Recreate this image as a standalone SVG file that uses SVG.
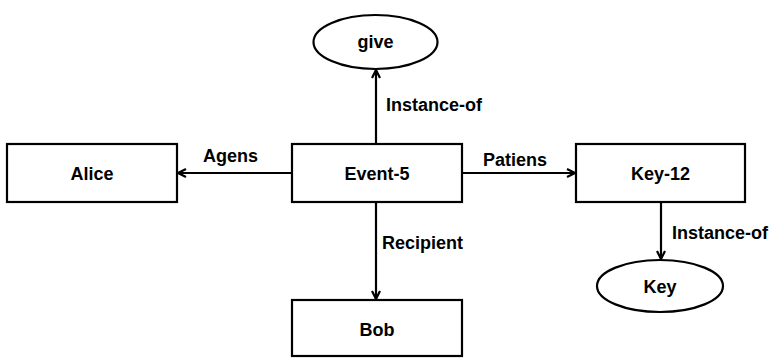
<svg xmlns="http://www.w3.org/2000/svg" width="776" height="358" viewBox="0 0 776 358">
  <style>
    .box { fill: #ffffff; stroke: #000000; stroke-width: 2.2; }
    .edge { fill: none; stroke: #000000; stroke-width: 2.2; }
    .lbl { font-family: "Liberation Sans", Arial, sans-serif; font-weight: bold; font-size: 18px; fill: #000000; }
    .mid { text-anchor: middle; }
  </style>
  <defs>
    <marker id="arrow" viewBox="0 0 10 10" refX="9" refY="5" markerWidth="10" markerHeight="10" markerUnits="userSpaceOnUse" orient="auto">
      <path d="M1,1 L9,5 L1,9" fill="none" stroke="#000000" stroke-width="2.2"/>
    </marker>
  </defs>
  <rect width="776" height="358" fill="#ffffff"/>

  <!-- connectors -->
  <g id="connectors">
    <line class="edge" x1="376" y1="144" x2="376" y2="70" marker-end="url(#arrow)"/>
    <text class="lbl" x="386" y="111">Instance-of</text>
    <line class="edge" x1="292" y1="173" x2="178" y2="173" marker-end="url(#arrow)"/>
    <text class="lbl" x="203" y="162">Agens</text>
    <line class="edge" x1="462" y1="173" x2="575" y2="173" marker-end="url(#arrow)"/>
    <text class="lbl" x="483" y="166">Patiens</text>
    <line class="edge" x1="376" y1="202" x2="376" y2="299" marker-end="url(#arrow)"/>
    <text class="lbl" x="382" y="249">Recipient</text>
    <line class="edge" x1="661" y1="202" x2="661" y2="259" marker-end="url(#arrow)"/>
    <text class="lbl" x="672" y="239">Instance-of</text>
  </g>

  <!-- nodes -->
  <g id="give">
    <ellipse class="box" cx="375.5" cy="42" rx="62" ry="27"/>
    <text class="lbl mid" x="375.5" y="48">give</text>
  </g>
  <g id="event5">
    <rect class="box" x="292" y="144" width="170" height="58"/>
    <text class="lbl mid" x="377" y="180">Event-5</text>
  </g>
  <g id="alice">
    <rect class="box" x="7" y="144" width="170" height="58"/>
    <text class="lbl mid" x="92" y="180">Alice</text>
  </g>
  <g id="key12">
    <rect class="box" x="576" y="144" width="169" height="58"/>
    <text class="lbl mid" x="660.5" y="180">Key-12</text>
  </g>
  <g id="bob">
    <rect class="box" x="292" y="300" width="170" height="56"/>
    <text class="lbl mid" x="377" y="336">Bob</text>
  </g>
  <g id="key">
    <ellipse class="box" cx="660" cy="286" rx="63" ry="26"/>
    <text class="lbl mid" x="660" y="293">Key</text>
  </g>
</svg>
